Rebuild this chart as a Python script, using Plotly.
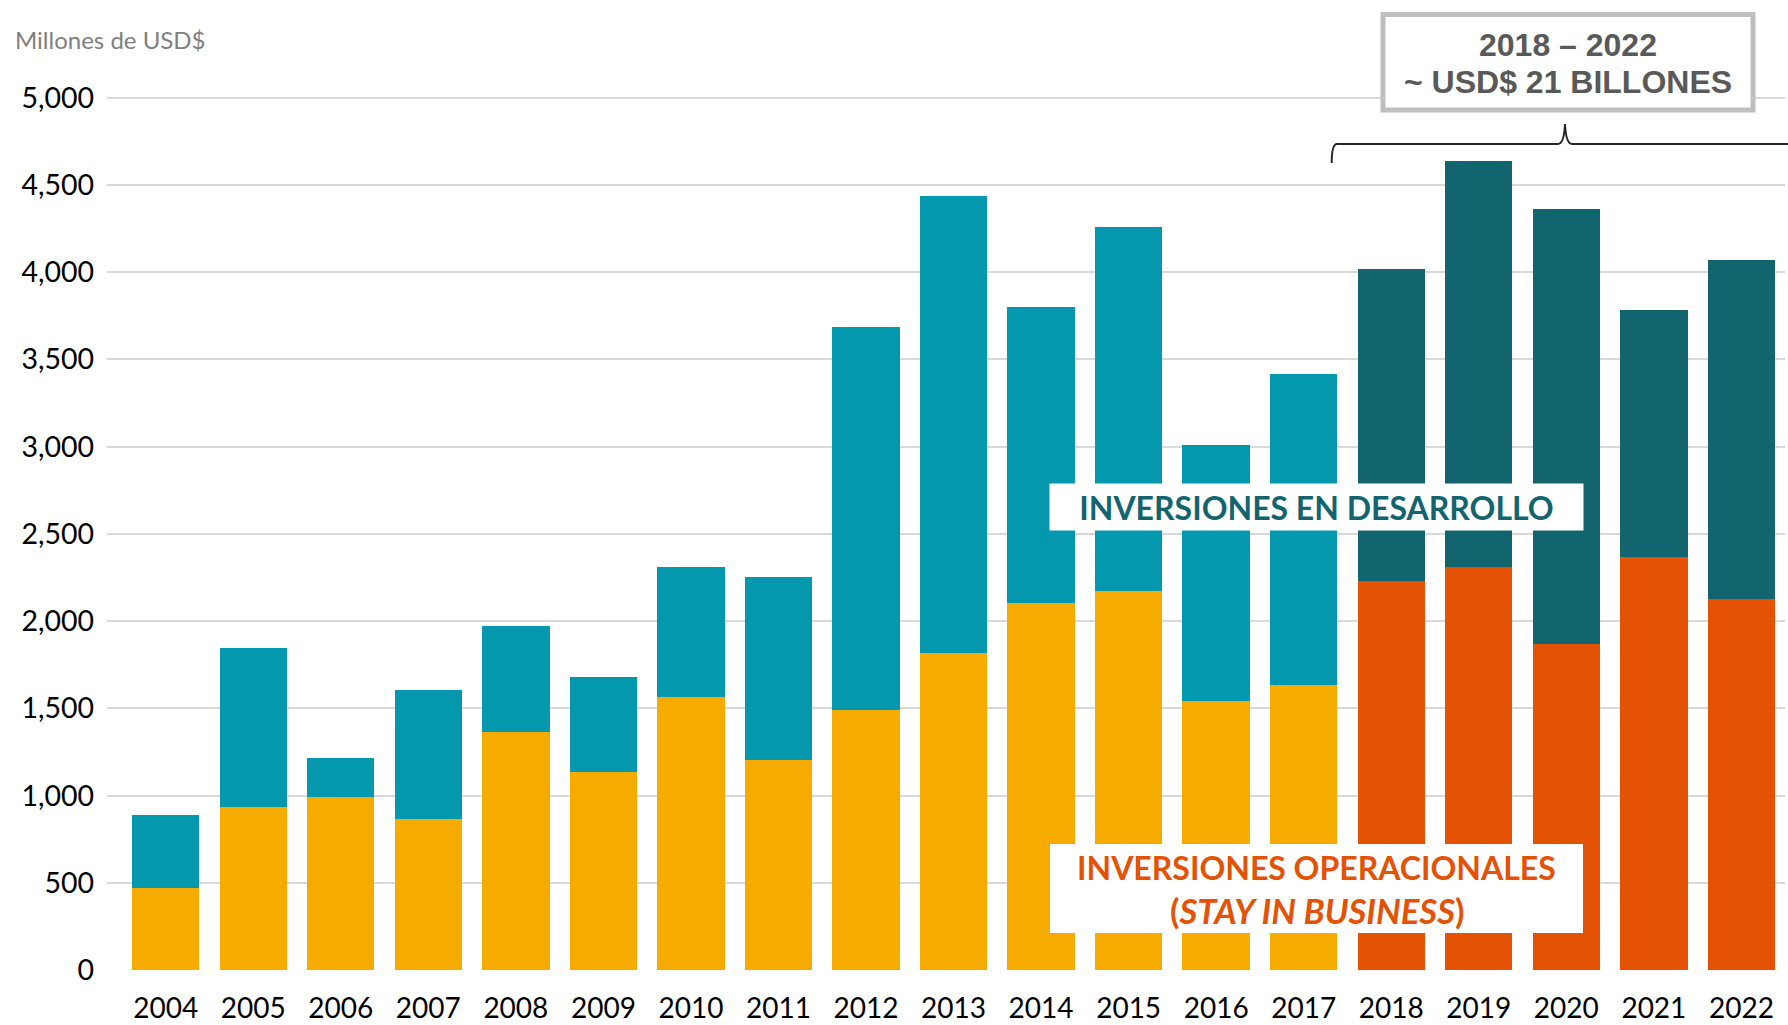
import plotly.graph_objects as go

years = [str(y) for y in range(2004, 2023)]
operacionales = [470, 935, 993, 868, 1363, 1136, 1563, 1204, 1488, 1819,
                 2101, 2173, 1543, 1633, 2229, 2310, 1869, 2367, 2127]
desarrollo = [420, 910, 224, 735, 611, 545, 745, 1046, 2196, 2617,
              1698, 2085, 1468, 1782, 1787, 2325, 2491, 1414, 1942]
y_ticks = [0, 500, 1000, 1500, 2000, 2500, 3000, 3500, 4000, 4500, 5000]
y_ticktext = ["0", "500", "1,000", "1,500", "2,000", "2,500", "3,000",
              "3,500", "4,000", "4,500", "5,000"]
highlight_years = ["2018", "2019", "2020", "2021", "2022"]

C_OP = "#F5AB00"
C_OP_H = "#E35205"
C_DEV = "#0398AD"
C_DEV_H = "#12646F"

op_colors = [C_OP_H if y in highlight_years else C_OP for y in years]
dev_colors = [C_DEV_H if y in highlight_years else C_DEV for y in years]

W, H = 1788, 1025
Y_TOP = 5050
ML, MR, MT, MB = 107, 3, 89, 55
PW, PH = W - ML - MR, H - MT - MB


def px(x):
    return (x - ML) / PW


def py(y):
    return (H - MB - y) / PH


fig = go.Figure()
fig.add_trace(go.Bar(x=years, y=operacionales, marker=dict(color=op_colors, line=dict(width=0)),
                     name="Operacionales"))
fig.add_trace(go.Bar(x=years, y=desarrollo, marker=dict(color=dev_colors, line=dict(width=0)),
                     name="Desarrollo"))

fig.update_layout(
    width=W, height=H,
    margin=dict(l=ML, r=MR, t=MT, b=MB, pad=0, autoexpand=False),
    barmode="stack", bargap=0.23,
    plot_bgcolor="white", paper_bgcolor="white",
    showlegend=False,
    font=dict(family="Lato", color="#000000"),
    xaxis=dict(range=[-0.6706, 18.498], showgrid=False, showline=False, ticks="",
               tickfont=dict(size=28, family="Lato", color="#000000"),
               ticklabelstandoff=19, zeroline=False, automargin=False),
    yaxis=dict(range=[0, Y_TOP], tickvals=y_ticks, ticktext=y_ticktext,
               showgrid=True, gridcolor="#D9D9D9", gridwidth=2, zeroline=False,
               showline=False, ticks="", ticklabelstandoff=12, automargin=False,
               tickfont=dict(size=28.5, family="Lato", color="#000000")),
)

# unit label
fig.add_annotation(xref="paper", yref="paper", x=px(13), y=py(40), xanchor="left", yanchor="middle",
                   text="Millones de USD$", showarrow=False,
                   font=dict(size=24, family="Lato", color="#7F7F7F"))

# label boxes
fig.add_annotation(xref="paper", yref="paper", x=px(1316.5), y=py(507.5), xanchor="center", yanchor="middle",
                   text="<b>INVERSIONES EN DESARROLLO</b>", showarrow=False,
                   width=533, height=46, bgcolor="white", borderpad=0,
                   font=dict(size=32, family="Lato", color=C_DEV_H))
fig.add_shape(type="rect", xref="paper", yref="paper", x0=px(1050), x1=px(1583), y0=py(933), y1=py(844),
              fillcolor="white", line=dict(width=0), layer="above")
fig.add_annotation(xref="paper", yref="paper", x=px(1316.5), y=py(867), xanchor="center", yanchor="middle",
                   text="<b>INVERSIONES OPERACIONALES</b>", showarrow=False,
                   font=dict(size=32, family="Lato", color=C_OP_H))
fig.add_annotation(xref="paper", yref="paper", x=px(1316.5), y=py(910), xanchor="center", yanchor="middle",
                   text="<b>(<i>STAY IN BUSINESS</i>)</b>", showarrow=False,
                   font=dict(size=34.5, family="Lato", color=C_OP_H))

# period box
fig.add_shape(type="rect", xref="paper", yref="paper", x0=px(1383), x1=px(1753), y0=py(110), y1=py(14.5),
              fillcolor="white", line=dict(color="#BFBFBF", width=5), layer="above")
fig.add_annotation(xref="paper", yref="paper", x=px(1568), y=py(45), xanchor="center", yanchor="middle",
                   text="<b>2018 – 2022</b>", showarrow=False,
                   font=dict(size=32, family="Liberation Sans", color="#595959"))
fig.add_annotation(xref="paper", yref="paper", x=px(1568), y=py(82), xanchor="center", yanchor="middle",
                   text="<b>~ USD$ 21 BILLONES</b>", showarrow=False,
                   font=dict(size=32, family="Liberation Sans", color="#595959"))

# brace
pts = [
    ("M", 1331.7, 163), ("Q", 1331.7, 144, 1337, 144), ("L", 1558, 144),
    ("Q", 1564, 144, 1565, 124), ("Q", 1566, 144, 1572, 144), ("L", 1790, 144),
]
path = ""
for p in pts:
    cmd = p[0]
    coords = p[1:]
    segs = []
    for i in range(0, len(coords), 2):
        segs.append(f"{px(coords[i]):.5f},{py(coords[i+1]):.5f}")
    path += cmd + " ".join(segs) + " "
fig.add_shape(type="path", xref="paper", yref="paper", path=path.strip(),
              line=dict(color="#262626", width=2), layer="above")

fig.write_html("out.html", config={"displayModeBar": False},
               post_script="document.body.style.margin='0px';document.body.style.overflow='hidden';")
